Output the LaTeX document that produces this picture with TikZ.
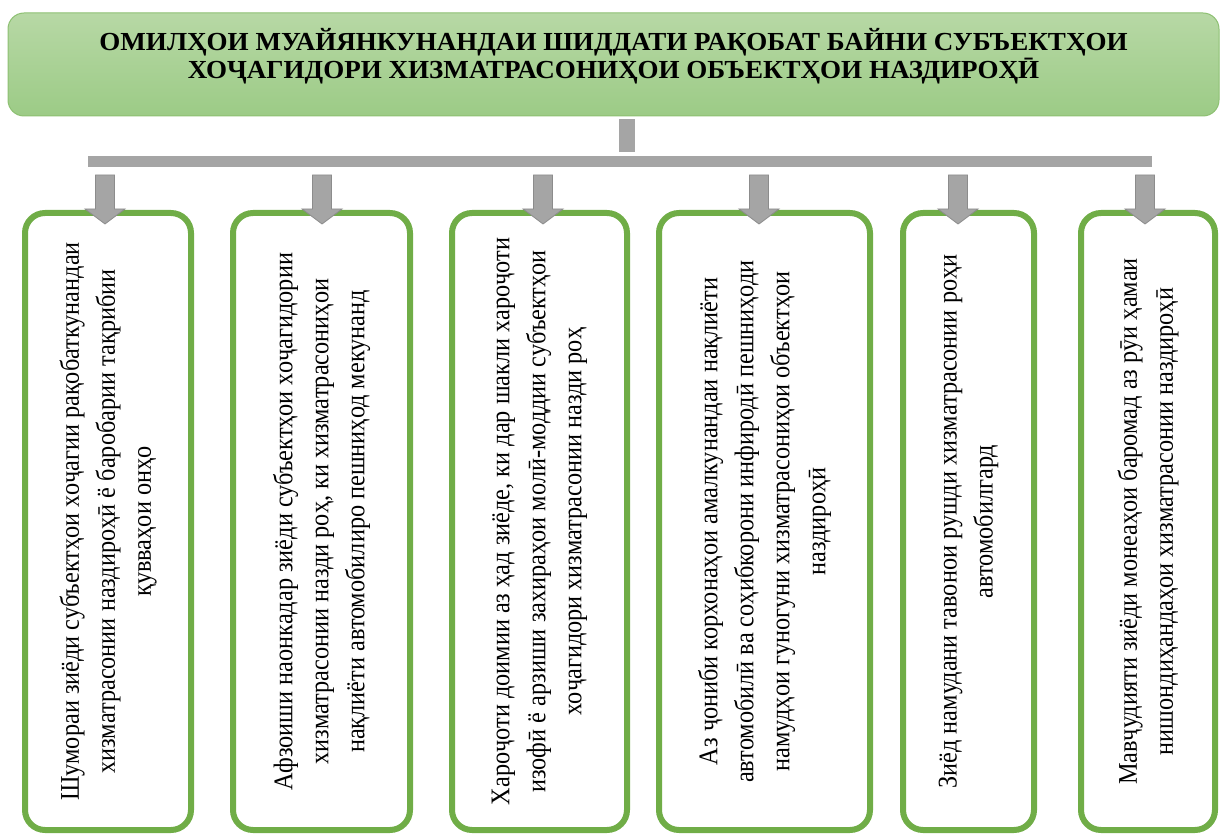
\documentclass[tikz,border=0pt]{standalone}
\usepackage{fontspec}
\setmainfont{Liberation Serif}
\newfontfamily\boxfont[FakeStretch=0.9]{Liberation Serif}
\newfontfamily\headfont[FakeStretch=1.04]{Liberation Serif}
\usetikzlibrary{calc,shadings}
\definecolor{hdrtop}{HTML}{B7D8A5}
\definecolor{hdrbot}{HTML}{9CCB86}
\definecolor{hdrline}{HTML}{8DC072}
\definecolor{boxline}{HTML}{70AD47}
\definecolor{gbar}{HTML}{A5A5A5}
\definecolor{garrow}{HTML}{8C8C8C}
\tikzset{
  header/.style={draw=hdrline, line width=1pt, top color=hdrtop, bottom color=hdrbot,
    rounded corners=16pt, minimum width=1211pt, minimum height=103pt, inner sep=0pt},
  headtext/.style={font=\headfont\bfseries\fontsize{26}{28}\selectfont, align=center, inner sep=0pt},
  graybar/.style={fill=gbar, inner sep=0pt, outer sep=0pt},
  factor/.style={draw=boxline, line width=6pt, rounded corners=20pt, fill=white,
    rotate=90, align=center, inner sep=0pt, minimum width=617pt,
    font=\boxfont\fontsize{27}{36}\selectfont},
  garr/.style={fill=gbar, draw=garrow, line width=0.8pt, line join=miter}
}
\begin{document}
\begin{tikzpicture}[x=1pt,y=-1pt]
\useasboundingbox (0,0) rectangle (1221,834);
\node[header] (hdr) at (613.5,64.5) {};
\node[headtext] (htitle) at (613.5,56) {ОМИЛҲОИ МУАЙЯНКУНАНДАИ ШИДДАТИ РАҚОБАТ БАЙНИ СУБЪЕКТҲОИ\\ХОҶАГИДОРИ ХИЗМАТРАСОНИҲОИ ОБЪЕКТҲОИ НАЗДИРОҲӢ};
\node[graybar, minimum width=1064pt, minimum height=11pt] (bar) at (620,161.5) {};
\coordinate (s1) at ($(hdr.south)+(13.5,3)$);
\coordinate (s2) at ($(bar.north)+(7,-4)$);
\draw[gbar, line width=16pt] (s1) -- (s2);

\node[factor, minimum height=166pt] (b1) at (108,521.5) {Шумораи зиёди субъектҳои хоҷагии рақобаткунандаи\\хизматрасонии наздироҳӣ ё баробарии тақрибии\\қувваҳои онҳо};
\node[factor, minimum height=177pt] (b2) at (321.5,521.5) {Афзоиши наонкадар зиёди субъектҳои хоҷагидории\\хизматрасонии назди роҳ, ки хизматрасониҳои\\нақлиёти автомобилиро пешниҳод мекунанд};
\node[factor, minimum height=175pt] (b3) at (539.5,521.5) {Хароҷоти доимии аз ҳад зиёде, ки дар шакли хароҷоти\\изофӣ ё арзиши захираҳои молӣ-моддии субъектҳои\\хоҷагидори хизматрасонии назди роҳ};
\node[factor, minimum height=211pt] (b4) at (764.5,521.5) {Аз ҷониби корхонаҳои амалкунандаи нақлиёти\\автомобилӣ ва соҳибкорони инфиродӣ пешниҳоди\\намудҳои гуногуни хизматрасониҳои объектҳои\\наздироҳӣ};
\node[factor, minimum height=131pt] (b5) at (968.5,521.5) {Зиёд намудани тавонои рушди хизматрасонии роҳи\\автомобилгард};
\node[factor, minimum height=134pt] (b6) at (1148,521.5) {Мавҷудияти зиёди монеаҳои баромад аз рӯи ҳамаи\\нишондиҳандаҳои хизматрасонии наздироҳӣ};

\foreach \i/\ax in {1/105,2/322,3/543,4/759,5/958,6/1145}{
  \coordinate (a\i) at (\ax,175);
  \coordinate (t\i) at (\ax,224);
  \draw[garr] ($(a\i)+(-9.5,0)$) -- ($(a\i)+(9.5,0)$) -- ($(t\i)+(9.5,-15)$) -- ($(t\i)+(20,-15)$)
    -- (t\i) -- ($(t\i)+(-20,-15)$) -- ($(t\i)+(-9.5,-15)$) -- cycle;
}
\end{tikzpicture}
\end{document}
